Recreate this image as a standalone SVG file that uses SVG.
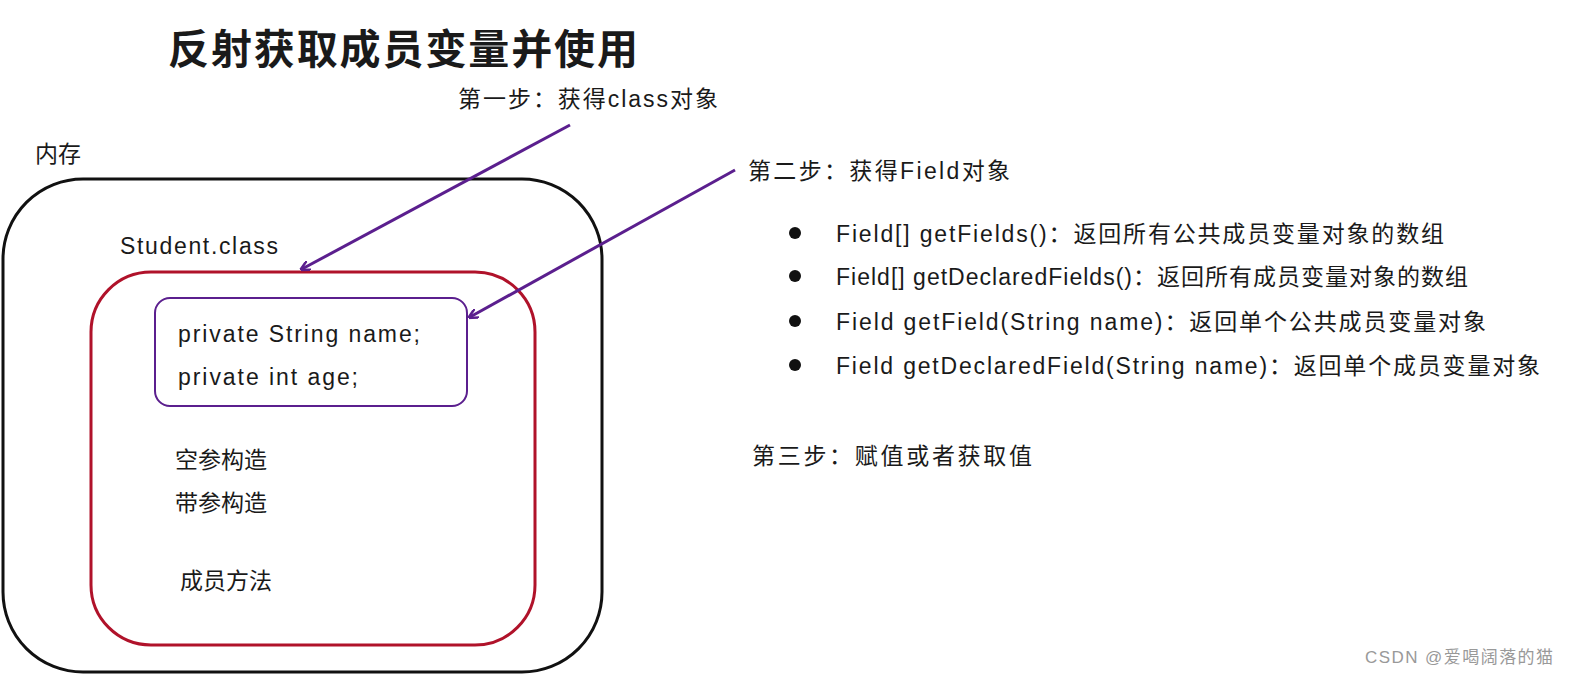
<svg xmlns="http://www.w3.org/2000/svg" width="1575" height="678" viewBox="0 0 1575 678">
<style>
text{font-family:"Liberation Sans","Noto Sans CJK SC",sans-serif;fill:#1a1a1a}
.t{font-size:23px}
.b{font-size:23px}
.arr{stroke:#5b1f8e;stroke-width:3;fill:none}
</style>
<defs><marker id="ah" markerWidth="10" markerHeight="10" refX="8" refY="5" orient="auto" markerUnits="userSpaceOnUse"><path d="M0,0 L10,5 L0,10" fill="none" stroke="#5b1f8e" stroke-width="2.5"/></marker></defs>
<rect width="1575" height="678" fill="#fff"/>
<text x="168" y="64" style="font-size:41px;font-weight:bold" textLength="470">反射获取成员变量并使用</text>
<g id="memory"><rect x="3" y="179" width="599" height="493" rx="80" fill="none" stroke="#111" stroke-width="3"/><text class="t" x="35" y="162">内存</text></g>
<g id="student"><rect x="91" y="272" width="444" height="373" rx="60" fill="none" stroke="#b0122a" stroke-width="3"/><text class="t" x="120" y="254" textLength="158">Student.class</text>
<text class="t" x="175" y="468">空参构造</text><text class="t" x="175" y="511">带参构造</text><text class="t" x="180" y="589">成员方法</text></g>
<g id="fields"><rect x="155" y="298" width="312" height="108" rx="15" fill="none" stroke="#5b1f8e" stroke-width="2"/><text class="t" x="178" y="342" textLength="242">private String name;</text><text class="t" x="178" y="385" textLength="180">private int age;</text></g>
<g id="connectors"><line class="arr" x1="570" y1="125" x2="302" y2="269" marker-end="url(#ah)"/><line class="arr" x1="735" y1="170" x2="470" y2="317" marker-end="url(#ah)"/></g>
<g id="steps">
<text class="t" x="458" y="107" textLength="260">第一步：获得class对象</text>
<text class="t" x="748" y="179" textLength="262">第二步：获得Field对象</text>
<circle cx="795" cy="233" r="6" fill="#111"/><text class="b" x="836" y="242" textLength="608">Field[] getFields()：返回所有公共成员变量对象的数组</text>
<circle cx="795" cy="276" r="6" fill="#111"/><text class="b" x="836" y="285" textLength="632">Field[] getDeclaredFields()：返回所有成员变量对象的数组</text>
<circle cx="795" cy="321" r="6" fill="#111"/><text class="b" x="836" y="330" textLength="650">Field getField(String name)：返回单个公共成员变量对象</text>
<circle cx="795" cy="365" r="6" fill="#111"/><text class="b" x="836" y="374" textLength="704">Field getDeclaredField(String name)：返回单个成员变量对象</text>
<text class="t" x="752" y="464" textLength="280">第三步：赋值或者获取值</text>
</g>
<text x="1365" y="663" style="font-size:17px;fill:#999" textLength="188">CSDN @爱喝阔落的猫</text>
</svg>
